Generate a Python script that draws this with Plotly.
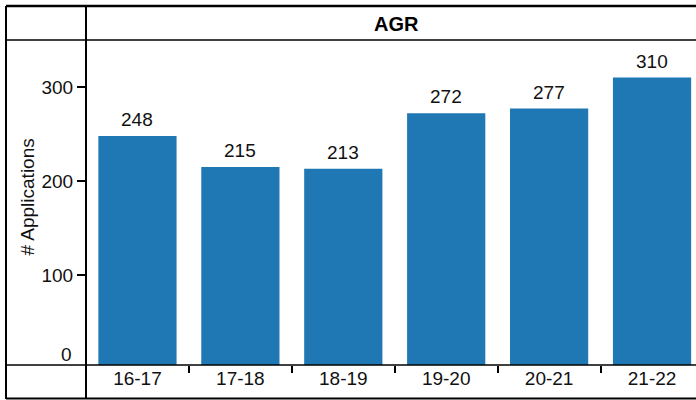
import plotly.graph_objects as go

categories = ["16-17", "17-18", "18-19", "19-20", "20-21", "21-22"]
applications = [248, 215, 213, 272, 277, 310]
y_tick_values = [100, 200, 300]
y_tick_labels = ["100", "200", "300"]
panel_title = "AGR"
y_title = "# Applications"

FONT = "Liberation Sans, Arial, Helvetica, sans-serif"
W, H = 696, 400
L, R, T, B = 86, 0, 40, 35
PW, PH = W - L - R, H - T - B

def px(x):
    return (x - L) / PW

def py(y):
    return (H - B - y) / PH

fig = go.Figure()
fig.add_trace(go.Bar(
    x=categories, y=applications,
    marker=dict(color="#1f77b4", line=dict(width=0)),
    hoverinfo="x+y",
))

annotations = []
for c, v in zip(categories, applications):
    annotations.append(dict(
        x=c, y=v, xref="x", yref="y", text=str(v), showarrow=False,
        yanchor="bottom", yshift=4, font=dict(size=19, color="#111111", family=FONT),
    ))
annotations.append(dict(
    x=px(74), y=py(354), xref="paper", yref="paper", text="0", showarrow=False,
    xanchor="right", yanchor="middle", font=dict(size=19, color="#111111", family=FONT),
))
annotations.append(dict(
    x=px(27), y=py(197.5), xref="paper", yref="paper", text=y_title, showarrow=False,
    textangle=-90, xanchor="center", yanchor="middle",
    font=dict(size=19, color="#111111", family=FONT),
))
annotations.append(dict(
    x=px(396), y=py(23.5), xref="paper", yref="paper", text="<b>" + panel_title + "</b>",
    showarrow=False, xanchor="center", yanchor="middle",
    font=dict(size=20, color="#000000", family=FONT),
))

shapes = []
def line(x0, y0, x1, y1, w=1.5):
    shapes.append(dict(type="line", xref="paper", yref="paper",
                       x0=px(x0), y0=py(y0), x1=px(x1), y1=py(y1),
                       line=dict(color="#000000", width=w)))

line(6, 6, 700, 6, 2.5)          # top border
line(6, 398.5, 700, 398.5, 2)    # bottom border
line(6, 6, 6, 399, 2)            # left border
line(86, 6, 86, 399, 2)          # vertical separator
line(6, 40, 700, 40, 1.5)        # header separator
line(6, 365, 700, 365, 1.5)      # axis separator

x_end = 5.5 - (703.5 - 696) / 103.0
fig.update_layout(
    width=W, height=H,
    margin=dict(l=L, r=R, t=T, b=B, pad=0),
    paper_bgcolor="white", plot_bgcolor="white",
    showlegend=False, bargap=0.24,
    font=dict(family=FONT, size=19, color="#111111"),
    xaxis=dict(
        type="category", range=[-0.5, x_end], tickson="boundaries",
        ticks="outside", ticklen=7, tickwidth=1.5, tickcolor="#000000",
        showgrid=False, zeroline=False, showline=False,
        tickfont=dict(size=19, color="#111111", family=FONT),
    ),
    yaxis=dict(
        range=[4.26, 350], tickvals=y_tick_values, ticktext=y_tick_labels,
        ticks="outside", ticklen=8, tickwidth=1.5, tickcolor="#000000",
        showgrid=False, zeroline=False, showline=False,
        tickfont=dict(size=19, color="#111111", family=FONT),
    ),
    annotations=annotations,
    shapes=shapes,
)

fig.write_html(
    "out.html",
    config={"displayModeBar": False},
    post_script="document.body.style.margin='0';document.body.style.padding='0';",
)
